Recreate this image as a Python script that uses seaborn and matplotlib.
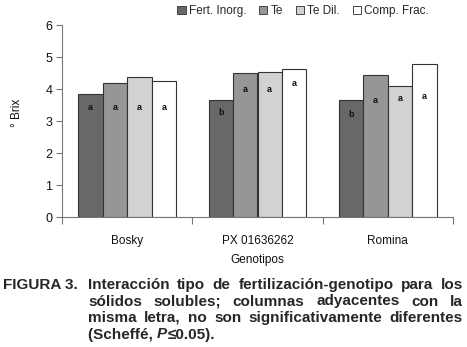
import matplotlib

matplotlib.use("Agg")
import matplotlib.pyplot as plt
import pandas as pd
import seaborn as sns
from matplotlib.patches import Patch

# datos
GENOTIPOS = ["Bosky", "PX 01636262", "Romina"]
TRATAMIENTOS = ["Fert. Inorg.", "Te", "Te Dil.", "Comp. Frac."]
BRIX = {
    "Fert. Inorg.": [3.83, 3.66, 3.66],
    "Te": [4.18, 4.49, 4.43],
    "Te Dil.": [4.37, 4.52, 4.08],
    "Comp. Frac.": [4.25, 4.62, 4.77],
}
LETRAS = {
    "Fert. Inorg.": ["a", "b", "b"],
    "Te": ["a", "a", "a"],
    "Te Dil.": ["a", "a", "a"],
    "Comp. Frac.": ["a", "a", "a"],
}
# altura (en °Brix) donde va escrita cada letra
ALTURA_LETRA = {
    "Fert. Inorg.": [3.42, 3.28, 3.19],
    "Te": [3.42, 4.0, 3.63],
    "Te Dil.": [3.42, 4.0, 3.69],
    "Comp. Frac.": [3.42, 4.16, 3.78],
}
COLORES = ["#686868", "#969696", "#d2d2d2", "#ffffff"]
Y_TICKS = [0, 1, 2, 3, 4, 5, 6]

LINEAS_PIE = [
    "Interacción tipo de fertilización-genotipo para los",
    "sólidos solubles; columnas adyacentes con la",
    "misma letra, no son significativamente diferentes",
]

FUENTE = ["Liberation Sans", "DejaVu Sans"]
W, H = 467, 347
T_PIE = 11


def justificar(fig, texto, x0, x1, y, size):
    """Coloca las palabras de una línea repartiendo el espacio (texto justificado)."""
    render = fig.canvas.get_renderer()
    piezas = []
    for palabra in texto.split():
        t = fig.text(0, y / H, palabra, fontsize=size, fontweight="bold",
                     family=FUENTE, va="baseline", ha="left")
        piezas.append((t, t.get_window_extent(render).width))
    hueco = (x1 - x0 - sum(a for _, a in piezas)) / (len(piezas) - 1)
    x = x0
    for t, ancho in piezas:
        t.set_x(x / W)
        x += ancho + hueco


def main() -> None:
    sns.set_theme(style="white")
    plt.rcParams["font.family"] = FUENTE

    filas = []
    for trat in TRATAMIENTOS:
        for gen, valor in zip(GENOTIPOS, BRIX[trat]):
            filas.append({"genotipo": gen, "tratamiento": trat, "brix": valor})
    datos = pd.DataFrame(filas)

    fig = plt.figure(figsize=(W / 100, H / 100), dpi=100)
    ax = fig.add_axes([62 / W, 1 - 217 / H, 391 / W, 192 / H])

    sns.barplot(data=datos, x="genotipo", y="brix", hue="tratamiento",
                order=GENOTIPOS, hue_order=TRATAMIENTOS, palette=COLORES,
                width=0.75, edgecolor="#333333", linewidth=0.8,
                errorbar=None, legend=False, saturation=1, ax=ax)

    # letras de significancia dentro de las barras
    barras = list(ax.patches)
    for i, trat in enumerate(TRATAMIENTOS):
        for j in range(len(GENOTIPOS)):
            b = barras[i * len(GENOTIPOS) + j]
            ax.text(b.get_x() + b.get_width() / 2, ALTURA_LETRA[trat][j],
                    LETRAS[trat][j], ha="center", va="center",
                    fontsize=6.5, fontweight="bold", color="#111111")

    ax.set_ylim(0, 6)
    ax.set_xlim(-0.5, 2.5)
    ax.set_yticks(Y_TICKS)
    ax.set_xticks(range(len(GENOTIPOS)))
    ax.set_xticks([-0.5, 0.5, 1.5, 2.5], minor=True)
    ax.tick_params(axis="y", left=True, length=4, width=0.8, color="#777777",
                   labelsize=9, pad=3, labelcolor="#111111")
    ax.tick_params(axis="x", which="major", bottom=False, labelsize=8.5,
                   pad=7, labelcolor="#111111")
    ax.tick_params(axis="x", which="minor", bottom=True, length=5,
                   width=0.8, color="#777777")
    for lado in ["top", "right"]:
        ax.spines[lado].set_visible(False)
    for lado in ["left", "bottom"]:
        ax.spines[lado].set_color("#777777")
        ax.spines[lado].set_linewidth(0.8)

    ax.set_xlabel("Genotipos", fontsize=8.5, labelpad=5, color="#111111")
    ax.set_ylabel("° Brix", fontsize=8.5, color="#111111")
    ax.yaxis.set_label_coords(-0.10, 0.54)

    manijas = [Patch(facecolor=c, edgecolor="#444444", linewidth=0.7)
               for c in COLORES]
    fig.legend(manijas, TRATAMIENTOS, ncol=4, frameon=False, fontsize=8.5,
               loc="center", bbox_to_anchor=(303 / W, 1 - 11 / H),
               handlelength=0.7, handleheight=0.7, handletextpad=0.25,
               columnspacing=1.1, borderpad=0)

    # pie de figura (líneas por su línea base)
    base = [289 + 16.5 * k for k in range(4)]
    fig.text(3 / W, 1 - base[0] / H, "FIGURA 3.", fontsize=T_PIE,
             fontweight="bold", va="baseline", ha="left")
    fig.canvas.draw()
    for k, linea in enumerate(LINEAS_PIE):
        justificar(fig, linea, 88, 463, H - base[k], T_PIE)
    render = fig.canvas.get_renderer()
    x = 88
    for trozo, estilo in [("(Scheffé, ", "normal"), ("P", "italic"),
                          ("≤0.05).", "normal")]:
        t = fig.text(x / W, 1 - base[3] / H, trozo, fontsize=T_PIE,
                     fontweight="bold", style=estilo, va="baseline", ha="left")
        x += t.get_window_extent(render).width

    fig.savefig("out.png", dpi=100)


if __name__ == "__main__":
    main()
